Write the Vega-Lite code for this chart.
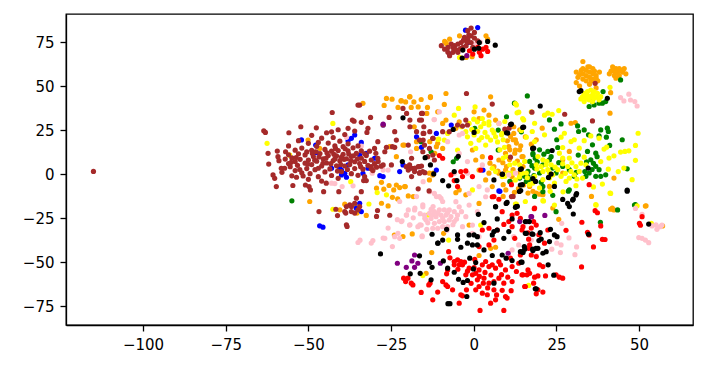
{"$schema":"https://vega.github.io/schema/vega-lite/v6.json","width":627,"height":311,"autosize":{"type":"none"},"padding":{"left":66,"top":14,"right":13,"bottom":45},"background":"white","config":{"view":{"stroke":"black","strokeWidth":1.3}},
"datasets":{"orange":[[31,58],[31.5,55],[31,52],[33,60],[33,57],[33,54],[34,56],[34,59],[34,53],[35,58],[35,55],[36,57],[36,54],[36,60],[37,56],[37.5,53],[33,64],[35,61],[38,58],[32,50],[35,51],[37,49],[32,56.5],[32.5,59],[34.5,61],[35.5,53],[36.5,58.5],[37,54.5],[41,57],[42,59],[42.5,56],[43,60],[43.5,58],[44,56],[44,60],[45,58],[45.5,60],[46,57],[43,54.5],[42,61],[41.5,58.5],[44.5,59],[42.8,57.5],[-26.4,43],[-24.7,42.6],[-27.1,39],[-22,41.6],[-20.6,41],[-19.3,44],[-18.1,41],[-15.9,42.4],[-13.1,44],[-22.9,37.9],[-18.9,37.9],[-16.8,38.2],[-14,37.9],[-14.2,34.5],[-10.9,35.4],[-33.5,40.2],[-27.9,-4.7],[-25.6,-6.5],[-23.4,-6.2],[-24.2,-9],[-27.2,-8.6],[-29.4,-8],[-22.4,-7.7],[-20.7,-7.1],[-19.8,-12.4],[-18.3,-12.8],[-24.6,-13.2],[-23,-14.1],[-27.9,-16.6],[-25.9,-18.1],[-32.5,-23.5],[-36,-17.5],[-39,-17.1],[-35.3,-22.2],[-40.5,-20.3],[-49.6,-15.6],[-18.6,-34],[-21.4,-35.5],[-24,-34.7],[-50.1,19.3],[-46.6,14.6],[-55.7,10.8],[-25.4,15.6],[-23.4,9.9],[-21,16.5],[-18,26.9],[-17.3,18.4],[-13.3,18.4],[-11.3,15.6],[-11.8,11.8],[-12.3,0.5],[-17.3,14.6],[-19.4,43.9],[-21.9,41.7],[-13.1,43.5],[-8.4,45.8],[-8.9,39.6],[-4.4,29.7],[-5.4,26],[-8.4,30.7],[-9.4,28.8],[0.1,35.4],[3.1,36.4],[1.6,31.6],[5.1,43.9],[4.6,33.5],[6.6,30.7],[12.1,26.9],[12.6,19.4],[12.1,23.1],[10.6,15.6],[15.6,21.2],[12.6,13.7],[14.6,9.9],[9.6,11.8],[7.6,8],[6.1,4.2],[4.6,0.5],[3.6,-3.3],[5.6,-7.1],[2.6,9.9],[0.6,8],[-0.4,13.7],[-9.4,14.6],[-10.9,17.5],[-12.4,-0.5],[-13.4,-3.3],[-20.9,-7.1],[-21.4,16.5],[-2.4,-11.8],[-4.4,-9],[-13.4,0.5],[1.6,2.3],[7.6,0.5],[11.6,-1.4],[9.6,2.3],[11.9,19.5],[10.9,13.8],[12.9,17.6],[13.9,13.8],[14.9,10],[12.4,11.9],[20.7,26.1],[18.9,19.5],[28.9,12.9],[26.9,8.1],[29.4,28.9],[30.7,29.3],[42.4,-2.3],[41.2,34.6],[41.4,46.3],[35.6,-12.7],[17.9,-9.8],[16.4,-10.8],[18.9,-10.8],[20.9,-11.7],[16.9,-7],[9.9,4.3],[8.9,-6],[13.9,0.6],[11.9,2.5],[14.9,4.3],[22.9,-7],[26.9,0.6],[52.1,-18],[41.9,-19.3],[23.9,-19.3],[8.9,-12.7],[51.9,-18.2],[41.4,-20],[42.4,-20.4],[25.7,-25.7],[19.9,-11.4],[57.1,-29.5],[-9.1,-33.7],[-12.7,-44.6],[1.6,-46.3],[5.1,-42.2],[6.6,-41.6],[-14.4,-56.4],[-5.4,-10.6],[1.6,-16.7],[-1.4,-29],[-8.8,75.4],[-7.3,76.7],[-4.3,78.6],[3.7,78.6],[-0.5,66.7],[-8.3,74.3],[4.2,76.7],[-2.3,66.3],[8.8,6.5],[10.8,8.3],[13.2,7.4],[7.3,1.7],[4.9,6.2],[11.2,-4.6],[13.5,-8.3],[15.1,-6.2],[12.3,-10.4],[9.7,-9],[17.4,17],[14.2,16.1],[11.1,21.4],[13.9,25.2],[10.2,18.9]],
"blue":[[-52.1,19.4],[-47.8,16.5],[-47.6,12.2],[-36,22.2],[-37,20.3],[-38,19],[-34,18],[-40,2.3],[-39,0.4],[-38.5,-1.8],[-40,-0.5],[-43,3.3],[-33.5,0.4],[-32,3.3],[-32.5,11.8],[-30,9],[-28.4,-0.9],[-27.4,-1.4],[-22.4,1.4],[-21.4,5.2],[-34.5,-16.6],[-34,-21.3],[-35.5,-19.4],[-46.6,-29.4],[-45.6,-30.2],[-17.3,21.2],[-15.8,15.2],[-11.3,23.1],[-11.3,2.3],[-27.4,27.9],[-34.5,10.8],[-40.5,3.3],[-38,5.2],[-6.8,27.9],[2.8,2.3],[7.6,-9.6],[7.9,-9.8],[1.2,83.3],[-7.3,68.2],[-2.5,81.8],[-1.8,74.8]],
"green":[[16.2,44.4],[12.3,40.3],[22.9,30.8],[24.4,25.5],[26.4,28.5],[31.4,27.4],[31.7,24.2],[33.4,25.1],[34.7,22.3],[38.4,25.1],[40.4,26.1],[37.9,21.7],[40.1,21],[40.7,24.2],[44.9,19.5],[25.1,19.5],[22.4,12.9],[19.9,13.8],[17.9,11],[16.9,7.2],[18.4,3.4],[20.9,5.3],[25.4,15.1],[31.6,10.8],[34.4,12.9],[35.9,16.6],[36.9,11.9],[35.4,8.1],[36.9,4.4],[34.9,0.6],[33.9,-1.3],[37.9,2.5],[39.9,-0.4],[38.4,-1.3],[36.9,-1.3],[46.4,3],[23.9,3.4],[24.9,0.6],[15.4,-1.3],[13.9,-2.3],[15.9,-4.2],[10.9,-4.2],[28.9,-8.9],[23.9,-12.1],[18.4,-12.7],[48.9,-17.4],[28.9,2.5],[26.9,4.3],[22.9,8.1],[19.9,0.6],[30.4,-1.3],[20.9,-7],[41.1,16.3],[44.4,53.5],[36.4,39.3],[37.9,40.3],[38.9,40.3],[39.9,41.2],[39.1,46.9],[35.9,41.2],[34.9,38.4],[-55,-15.2],[9.9,32.6],[7.4,25],[0.3,26],[-5.2,9],[-6.2,7],[-15.9,18.4],[-12.9,12.7],[14.4,24],[7.4,13.7],[16.4,-1.4],[17.9,11.8],[28.6,-9.7],[20.9,-10],[38.3,-27.4],[43.5,-20.4],[48.6,-17.6],[24.9,-21.4],[18.6,9],[19.2,7],[17.6,4.8],[16.4,1.5],[18.2,-0.8],[21.2,11.3],[23.4,9.9],[25.7,6.5],[35.8,2.6],[33.6,1.4],[36.2,6.1],[34.1,6.9],[37.3,9.9],[31,1],[16.8,-3],[20.4,-4.6]],
"yellow":[[32.4,42.7],[33.4,45.9],[34.4,46.9],[35.4,47.8],[36.4,46.9],[37.4,45.9],[38.4,44],[33.9,43.1],[35.4,44],[36.4,43.1],[34.9,42.2],[33.4,41.2],[35.9,41.2],[37.9,42.2],[41.2,49.3],[32.9,44],[34.4,44.8],[36,45.4],[37.2,43.7],[12.9,39.3],[13.6,35.2],[21.4,33.5],[22.4,34.6],[23.7,34],[25.7,36.1],[15.1,30.8],[18.4,28.9],[14.4,24.8],[17.7,24.2],[21.4,22.3],[27.4,23.2],[15.9,21],[18.4,18.5],[26.4,21],[29.4,18.5],[33.4,19],[35.4,21.7],[37.9,20.4],[30.4,19.5],[31.9,14.7],[26.9,15.1],[39.4,14.2],[40.2,15.3],[44.4,12.5],[45.7,12.9],[46.9,13.2],[49.7,23.2],[48.9,16.3],[42.4,10.4],[40.9,9.1],[48.9,7.8],[45.4,3.4],[40.7,2.8],[47.9,-3.2],[38.9,-5.7],[41.2,-10.8],[36.9,-17.4],[49.4,-18],[20.9,-15.1],[12.9,-17],[19.4,10],[20.9,8.1],[21.9,5.3],[20.4,4.3],[18.9,5.3],[22.4,2.5],[20.9,1.5],[23.4,5.3],[23.9,-0.4],[25.4,2.5],[26.4,-1.3],[28.4,4.3],[26.9,9.1],[28.9,9.1],[25.9,11.9],[30.9,4.3],[32.4,6.2],[31.9,1.5],[33.9,5.3],[30.4,-0.4],[29.4,1.5],[28.9,-2.3],[32.9,-2.3],[27.9,-4.2],[17.9,-5.1],[15.9,0.6],[13.9,5.3],[15.4,7.2],[12.4,6.2],[10.9,5.3],[8.9,9.1],[7.9,13.8],[9.9,10],[10.4,0.6],[9.4,-1.3],[18.4,-1.3],[20.9,-3.2],[22.9,-2.3],[16.9,-6],[19.9,-7.9],[30.9,-6.6],[24.4,-5.1],[8.4,22.3],[9.4,29.9],[8.9,19.5],[-4.6,37.3],[0.4,38.2],[-5.9,33.5],[-1.4,28.8],[-2.4,24.1],[0.1,22.2],[2.1,26.9],[3.1,28.8],[4.6,27.9],[5.6,25],[1.6,19.3],[-0.9,17.5],[-1.9,21.2],[4.1,21.2],[6.6,21.2],[8.6,23.1],[13.1,34.8],[14.8,31.6],[17.4,35.4],[12.6,40.1],[-8.9,19.3],[-7.9,23.1],[-10.6,19.9],[-4.9,13.7],[1.1,29.7],[2.6,31.6],[4.6,29.7],[7.6,28.8],[0.6,14.6],[3.6,16.5],[5.1,19.3],[-0.4,-9],[5.6,3.3],[6.6,1.4],[12.6,-3.3],[15.6,-15.6],[11.6,0.5],[8.6,-1.4],[14.6,0.5],[-42.6,28.8],[-62.5,17.5],[-55.7,10.8],[-37.2,-4.3],[-29.2,-10.5],[-26.4,-11.8],[-42.6,-20],[-31.7,-17],[-13.8,-23.2],[-10.8,19.7],[-4.3,66.3],[-15.4,-57.7],[16.6,-63.3],[2.1,-29],[12.6,-17],[-7.6,-37.5],[37,-17.6],[41.4,-11],[21.1,-15.3],[24.4,-17.6],[53.7,-28],[22.1,7.3],[24.6,3.9],[26.9,5.8],[22.9,0.7],[27.7,0.4],[29.7,6.4],[31.2,-2.8],[19.1,2.9],[16.2,-2.1],[-0.6,25.4],[1.2,24.3],[3.4,23.7],[2.4,20.8],[0,31.2],[-3.7,26.9],[6.1,23.4],[7.2,18.3],[9.3,15.2],[13.8,-1.6],[23.1,-9.8],[27,-10.1],[33.4,9.6],[38.4,7.1],[43.7,1.4],[36.2,-7.3]],
"pink":[[-14.9,-23.3],[-13.4,-22.3],[-11.9,-21.4],[-10.4,-20.4],[-8.9,-20.4],[-7.4,-20.4],[-5.9,-21.4],[-4.9,-23.3],[-14.4,-26.1],[-12.9,-25.2],[-11.4,-24.2],[-9.9,-23.3],[-8.4,-23.3],[-6.9,-24.2],[-11.9,-28],[-10.4,-27],[-8.9,-27],[-7.4,-26.1],[-5.9,-27],[-10.9,-30.8],[-9.4,-29.9],[-7.9,-29.9],[-15.9,-29],[-17.9,-20.4],[-20.4,-23.3],[-21.9,-27],[-19.4,-29],[-16.9,-29.9],[-12.4,-30.8],[-15.4,-18.6],[-9.9,-13.8],[-11.9,-11],[-5.4,-15.7],[-4.4,-18.6],[-1.4,-17.6],[1.1,-21.4],[-2.4,-24.2],[-3.4,-29.9],[-0.4,-29],[-22.4,-36.5],[-23.9,-35.6],[-26.9,-36.5],[-24.6,-41.2],[-15.6,-35.6],[-22.9,-33.7],[-0.4,-33.7],[12.1,-35.6],[13.6,-40.3],[11.6,-43.1],[1.6,-35.6],[3.6,-12.9],[-1.4,-11],[-35,-38.9],[-34.4,-37.6],[-31,-39.2],[-30.5,-37.8],[-27.4,-36.4],[-25.9,-30.7],[-20.3,-23.2],[-21.7,-26.6],[-19.3,-28.8],[-16.3,-28.8],[-17.8,-19.4],[-15.3,-4.3],[-13.3,-10],[-12,31],[-19.1,12.7],[-27.4,2.3],[-25.9,2.3],[-30.7,0.5],[-43,-5.2],[-42,-5.4],[-36.5,-6.7],[-39.8,-7.1],[-42.6,12.4],[-38.5,20.9],[-34,15.9],[-22.4,-15.6],[-17.3,-12.8],[-11.3,-12.8],[-14.8,-25.1],[-12.3,-18.5],[-15.6,-35.1],[44.4,43.5],[45.4,41.6],[46.9,45.4],[47.4,42.1],[48.7,41.2],[49.4,38.7],[-11.9,31],[-10.4,35.4],[-4.4,22.2],[-3.4,23.1],[-7.9,18.4],[-1.9,7.1],[2.6,5.2],[7.6,28.8],[-1.9,0.5],[4.1,-9],[-10.4,-12.8],[-9.4,-15.6],[-15.4,-17.5],[-4.4,11.8],[10.6,-0.5],[12.6,0.5],[1.6,-7.1],[-5.9,0.5],[26.6,-28],[28.8,-36.3],[25.1,-39.3],[26.4,-40.3],[31.1,-41.4],[30.6,-45.8],[26.2,-44.6],[23.6,-42.7],[18.9,-46.5],[48.9,-19.5],[50.9,-22.9],[49.9,-36.1],[50.9,-36.5],[51.9,-37.5],[52.9,-39],[53.9,-29.5],[55.1,-28.9],[56.4,-29.9],[55.4,-31.4],[56.9,-29],[17.4,-37.5],[0.5,74],[2,75],[-13.9,-27.7],[-12.4,-23.1],[-10.9,-22.3],[-9.4,-25],[-7.9,-22],[-6.3,-28.8],[-8.1,-31.9],[-12.9,-20.1],[-14.2,-31.4],[-5.2,-25.6],[-18.3,-24.9],[-19.8,-20.4],[-16.2,-22.5],[-23.1,-25.9],[-3.7,-21.4]],
"brown":[[-115,1.5],[-63.5,24.6],[-63,23.7],[-55.9,23.5],[-52.3,26.9],[-47.6,26.3],[-42.8,35],[-34.5,39.2],[-35,39.2],[-36.7,30.7],[-36.2,30.1],[-34,29.4],[-31.2,32.2],[-25.6,32.2],[-32,26],[-32.3,23.7],[-27.4,27.9],[-29,18.4],[-23.9,24.1],[-23.4,19.3],[-21.4,37.3],[-20.3,34.5],[-19.3,30.7],[-19.3,26.9],[-15.8,34.5],[-15.8,30.7],[-13.3,24.1],[-17.3,24.1],[-19.8,16.5],[-12.3,20.3],[-18.8,9],[-15.3,23.1],[-15.3,19.3],[-18.8,3.3],[-17.8,3.3],[-16.8,4.2],[-15.8,4.6],[-19.8,2.3],[-16.3,0.8],[-18.8,-1.4],[-14.8,0.8],[-24.6,15.6],[-23.9,15.2],[-26.9,12.7],[-26.4,15.2],[-30,14.6],[-29.6,11.8],[-28.9,7.1],[-27.4,5.2],[-24.9,5.2],[-29.4,3.9],[-31,4.2],[-16.8,-8.4],[-13.5,-9.6],[-25.4,-23.4],[-29.4,-24.1],[-29.1,-20.7],[-38.5,-28.8],[-38.3,-29.8],[-46.8,-21.3],[-41.2,-23.6],[-41.7,-20],[-35.5,-13.7],[-36,-16.6],[-37.5,-17.5],[-38.5,-18.5],[-39,-21.3],[-37,-21.3],[-36,-22.2],[-35,-20.3],[-37,-18.5],[-34.5,-18.5],[-38.7,-22.2],[-59.7,-7.1],[-54.7,-6.5],[-60.7,-0.5],[-60.2,-2.4],[-62.2,11.8],[-62,5.7],[-59.4,13.1],[-59.2,9.9],[-58.9,7.6],[-56.9,12.7],[-58.2,3.3],[-57.2,3.3],[-53.6,-1.8],[-51.6,-1.1],[-50.9,-6.2],[-49.8,-7.1],[-49.4,-9],[-45.4,-10],[-40.8,-10],[-34,-10],[-44.6,-5.2],[-33.3,-3.7],[-32.5,-3.7],[-41,-2.4],[-57,8.5],[-56,6],[-55,9.2],[-55.5,4.2],[-54,7.1],[-54,2],[-53,11.5],[-53.3,5],[-52.5,8.4],[-52,0.7],[-52,14.8],[-51,6.2],[-51,10.9],[-50.5,3.1],[-50,17.5],[-50,8],[-49.5,0.2],[-49,13.5],[-49,5.4],[-48.5,10],[-48,2.5],[-47.5,15.8],[-47.5,7.3],[-47,-1.5],[-46.5,11.7],[-46,4.6],[-46,20.4],[-45.5,8.6],[-45,14],[-45,1.2],[-44.5,23.5],[-44.5,6.3],[-44,17.6],[-44,10.5],[-43.5,2.9],[-43,13],[-43,-0.8],[-42.5,7.7],[-42.5,20.8],[-42,16],[-41.5,4.7],[-41.5,10.3],[-41,25.2],[-41,13.4],[-40.5,18.7],[-40.5,7.6],[-40,1.4],[-39.5,11.2],[-39.5,15.6],[-39,4.6],[-39,22.5],[-38.5,8.7],[-38,13.2],[-38,17.2],[-37.5,5.4],[-37,10.1],[-37,0.2],[-36.5,14.9],[-36,7],[-36,3.1],[-35.5,11.8],[-35,-0.7],[-35,16],[-34.5,6],[-34,9],[-34,13.2],[-33.5,2.8],[-33,7.2],[-33,-1.5],[-32.5,10.5],[-32,5],[-31.5,13],[-31,8],[-30.5,2],[-30,6],[-29,9],[-28,4.5],[-56,11],[-58,1],[-55,-1],[-54,13.6],[-50,-3],[-47,18],[-46,-4],[-43,24],[-38,26],[-36,24.5],[-56,16],[-53,19],[-49,22],[-52.6,2.6],[-50.2,5.6],[-48.1,7.9],[-47,3.3],[-45.6,6.1],[-44.7,9],[-43.2,5.9],[-42,8.6],[-41.2,1.7],[-40.2,5.4],[-39.2,8.4],[-38.2,2.6],[-37.2,7.7],[-36.4,10.4],[-35.2,8.6],[-34.2,4.2],[-46.8,9.7],[-48.8,11.7],[-50.5,12.6],[-44.4,12.1],[-42.3,11.2],[-40,9.7],[-37.8,11.4],[-41.8,14.6],[-47.8,12.7],[-53.7,9.4],[-55.2,6.7],[-38.9,14.4],[-33,11.5],[-31,3],[-15.5,34.5],[-16.4,30.7],[-15.1,26.9],[-15.1,23.1],[-12.4,20.3],[-16.4,19.3],[-14.9,16.5],[-13.4,14.6],[-12.4,10.8],[-11.9,8],[-13.9,9.9],[-15.4,12.7],[-16.4,4.2],[-17.9,3.3],[-19.4,3.3],[-20.4,4.2],[-16.4,0.5],[-15.4,1.4],[-17.9,1.4],[-19.4,5.2],[-2.2,45.8],[5.6,39.8],[-2.4,30.7],[-1.9,27.9],[-4.9,27.9],[-7.4,24.1],[-3.4,27.3],[11.4,-12.8],[-9.4,24.1],[17.6,35.2],[27.5,34],[35.9,30.2],[36.7,51.6],[11.1,9.6],[9.4,25.5],[10.7,26.1],[11.9,-12.7],[-9.8,73],[-8.8,71],[-7.8,72],[-6.8,73.9],[-5.8,73],[-4.8,73.9],[-3.8,74.8],[-2.8,77.7],[-1.8,81.5],[-0.8,83],[0.2,80.5],[-0.8,78.6],[-1.8,76.7],[-0.8,74.8],[-7.8,69.2],[-6.3,69.2],[-4.8,69.2],[-3.3,72],[-2.3,72.9],[0.2,77.3],[1.2,75.8],[-0.3,72],[-6.3,72],[-7.3,67.3],[-5.4,70.8],[-4,71.3],[-1.5,79],[-2,74.9],[-3.1,76.1]],
"red":[[-21.2,-59.2],[-19.9,-59.2],[-18.9,-62],[-18.4,-63],[-20.6,-61.1],[-15.9,-67.3],[-13.6,-63],[-13.2,-62],[-10.9,-67.1],[-9.4,-61.1],[-8.4,-63],[-7.9,-63.9],[-8.2,-56.7],[-6.4,-65.8],[-4.4,-73.4],[-3.4,-69.2],[-2.2,-65.8],[-5.9,-49.7],[-4.9,-48.8],[-3.9,-49.7],[-5.9,-51.6],[-4.4,-51.6],[-3.4,-51.6],[-1.4,-53.5],[-2.4,-57.3],[-0.4,-57.3],[0.6,-56.4],[1.6,-54.5],[2.6,-51.6],[3.6,-49.7],[4.6,-52.6],[5.6,-51.6],[6.6,-53.5],[8.1,-51.6],[9.6,-54.5],[1.1,-60.1],[3.1,-59.2],[4.6,-62],[1.6,-63.9],[0.6,-65.8],[6.1,-65.8],[6.1,-61.1],[7.6,-59.2],[9.1,-62],[11.6,-61.1],[11.6,-52.6],[14.6,-57.3],[16.1,-57.3],[18.1,-62],[19.1,-65.8],[15.6,-63.9],[2.6,-67.7],[4.1,-68.6],[5.1,-73.4],[6.6,-71.5],[9.6,-69.6],[10.1,-70.5],[9.1,-77.5],[1.9,-77.5],[-12.4,-71.5],[-3.9,-68.6],[-7.9,-54.5],[-7.6,-44.1],[1.6,-41.2],[4.6,-40.3],[8.6,-21.4],[11.6,-23.3],[13.1,-22.3],[14.1,-25.2],[10.6,-27],[9.1,-28.6],[7.1,-31.8],[4.6,-30.8],[5.6,-12.9],[11.6,-29.9],[14.6,-31.8],[12.4,-36.5],[6.1,-37.5],[2.6,-31.8],[16.6,-42.2],[13.6,-50.7],[11.1,-47.8],[7.6,-49.7],[18.3,-19.7],[36.7,-20.8],[37.4,-22],[32.7,-27.4],[38.4,-29.5],[27.9,-32],[34.4,-33.1],[34.9,-34.6],[38.9,-37.1],[39.7,-37.2],[36.2,-41.4],[32.6,-52.8],[50.1,-28],[50.4,-29.1],[50.9,-24.2],[22.4,-31.8],[21.4,-39.3],[17.4,-46],[18.9,-46.9],[19.9,-51.6],[20.9,-52.6],[16.4,-54.5],[16.9,-56.4],[14.9,-57.3],[18.4,-58.6],[19.4,-57.9],[21.7,-57.9],[24.9,-57.3],[25.9,-58.6],[26.9,-59.2],[15.4,-63.9],[19.4,-65.8],[20.9,-67.1],[18.9,-68.1],[18.1,-27],[18.9,-29],[14.9,-29.9],[16.9,-40.3],[14.1,-46],[-10.4,10.5],[-9.4,9],[-5.9,-3.7],[-3.9,1.4],[-2.4,1.8],[-3.4,-1.4],[-6.9,-0.5],[-4.9,-7.1],[5.1,9.3],[6.1,-12.8],[7.6,-14.3],[-0.4,-1.4],[2.1,2.3],[11.4,-6],[18.4,-19.3],[34.9,-6],[1.7,69.2],[2.7,71],[3.7,72],[4.2,69.7],[2.2,67.3],[-1.3,70.1],[-0.3,68.2],[1.2,72],[-1.9,-55.2],[0.1,-53.2],[1.7,-58.2],[3.4,-55.9],[5.2,-57.4],[-0.8,-62.1],[-4.8,-54.1],[2.9,-62],[8.4,-57.2],[10.3,-58.6],[12.9,-55.4],[6.9,-68.7],[8.6,-66.1],[11.3,-66.3],[4.2,-64.7],[-7.2,-47.6],[-2.8,-50.1],[0.3,-48.5],[17.4,-30.7],[16.4,-33.4],[19.7,-34.5],[16.6,-37]],
"purple":[[-17.9,-46],[-23.1,-50.7],[-18.7,-49.4],[-20.4,-53],[-16.9,-50.7],[-17.9,-53],[-10.1,-50.7],[10.4,-45],[13.9,-27],[17.3,-24.2],[16.1,-27],[21.5,-23.5],[17.5,-24.2],[-2.1,67.3],[-27.4,28.4]],
"black":[[-12.6,-34.2],[-8.2,-31.4],[-9.4,-37.5],[-10.9,-39.3],[-4.9,-34.6],[-4.9,-37.1],[-3.9,-41.6],[-1.9,-39.3],[-1.4,-34.6],[0.1,-34.6],[1.1,-35.6],[-0.4,-40.3],[1.1,-40.3],[1.4,-22.9],[3.1,-27.6],[7.1,-25.5],[6.6,-18.6],[9.8,-16.7],[12.6,-18.9],[11.6,-25.5],[6.1,-32.7],[7.1,-31.8],[5.6,-34.6],[9.1,-36.5],[10.6,-32.7],[15.6,-27],[16.8,-27],[15.6,-33.7],[17.6,-34],[3.1,-43.1],[5.6,-46.3],[8.6,-46],[9.8,-47.8],[11.6,-49.2],[14.3,-50.1],[-1.2,-47.8],[0.6,-50.3],[-0.1,-53.9],[-7.9,-53.5],[-5.9,-55.8],[-13.4,-50.3],[-12.6,-53],[-9.2,-49.4],[-16.4,-46.5],[-19.2,-56.7],[-16.2,-56.4],[-12.9,-60.1],[-4.6,-59.8],[-3.2,-61.6],[-1.9,-60.5],[-2.1,-69.6],[-7.2,-73.7],[-7.8,-73.7],[6.1,-62],[14.8,-44.1],[15.3,-41.2],[14.1,-44.1],[17.8,-42.7],[18.8,-42.2],[18.6,-65.2],[-28.2,-45.4],[26.9,-14.4],[28.4,-16.7],[28.9,-18.5],[29.9,-14.8],[30.9,-11.9],[30.1,-22.7],[23.2,-31.4],[24.4,-34.6],[25.2,-35.6],[20.1,-33.3],[17.9,-34.2],[15.9,-33.7],[20.4,-36.9],[19.7,-37.8],[22.9,-38.4],[19.4,-42.2],[17.9,-43.5],[15.4,-42.7],[14.9,-44.6],[20.9,-45],[21.9,-44.1],[14.6,-50.1],[22.5,-51.6],[24.2,-57.5],[18.9,-65.2],[34.7,-34.2],[52.9,-28.4],[46.4,-9.7],[20.1,38.7],[11.4,28.4],[15.1,26.7],[10.3,23.3],[18.1,14.7],[23.7,13.4],[14.4,3],[8.7,0],[34.6,3.4],[23.4,0],[22.6,-1.9],[17.9,-2.6],[18.7,-4.2],[14.7,-6],[14.2,-9.4],[24.4,-7],[31.1,-11.1],[30.1,-14.2],[46.4,-9.1],[10.1,-16.1],[13.2,-18.3],[40.4,43.1],[31.9,46.9],[32.4,47.4],[-21.4,32],[-6.2,25.4],[0.1,23.7],[9.9,23.5],[11.1,28.2],[14.8,26.5],[-14.7,9.3],[-4.7,10.1],[-21.6,7.1],[-5.9,1.4],[-9.4,-3.7],[-7.6,-6.7],[-5.1,-3.7],[6.1,-3.3],[14.1,2.7],[8.6,-0.1],[14.1,-6.2],[13.8,-9.9],[17.8,14.6],[6.6,-18.5],[12.8,-18.5],[-13.1,5.2],[-12.1,0.1],[-10.8,-39.2],[1.7,74.8],[4.2,75.4],[6.5,73.3],[-3.3,70.5],[0.2,71],[1.5,71.6],[-3.5,66]]},
"encoding":{"x":{"field":"0","type":"quantitative","scale":{"domain":[-123.3,66.3],"nice":false,"zero":false},"axis":{"values":[-100,-75,-50,-25,0,25,50],"title":null,"grid":false,"labelFont":"DejaVu Sans","labelFontSize":15,"labelColor":"black","tickColor":"black","domainColor":"black","tickSize":6,"labelPadding":6,"tickWidth":1.3,"domainWidth":1.3}},"y":{"field":"1","type":"quantitative","scale":{"domain":[-85.8,91],"nice":false,"zero":false},"axis":{"values":[-75,-50,-25,0,25,50,75],"title":null,"grid":false,"labelFont":"DejaVu Sans","labelFontSize":15,"labelColor":"black","tickColor":"black","domainColor":"black","tickSize":6,"labelPadding":6,"tickWidth":1.3,"domainWidth":1.3}}},
"layer":[
{"data":{"name":"orange"},"mark":{"type":"point","filled":true,"size":27,"opacity":1,"color":"#ffa500"}},
{"data":{"name":"blue"},"mark":{"type":"point","filled":true,"size":27,"opacity":1,"color":"#0000ff"}},
{"data":{"name":"green"},"mark":{"type":"point","filled":true,"size":27,"opacity":1,"color":"#008000"}},
{"data":{"name":"yellow"},"mark":{"type":"point","filled":true,"size":27,"opacity":1,"color":"#ffff00"}},
{"data":{"name":"pink"},"mark":{"type":"point","filled":true,"size":27,"opacity":1,"color":"#ffc0cb"}},
{"data":{"name":"brown"},"mark":{"type":"point","filled":true,"size":27,"opacity":1,"color":"#a52a2a"}},
{"data":{"name":"red"},"mark":{"type":"point","filled":true,"size":27,"opacity":1,"color":"#ff0000"}},
{"data":{"name":"purple"},"mark":{"type":"point","filled":true,"size":27,"opacity":1,"color":"#800080"}},
{"data":{"name":"black"},"mark":{"type":"point","filled":true,"size":27,"opacity":1,"color":"#000000"}}
]}
